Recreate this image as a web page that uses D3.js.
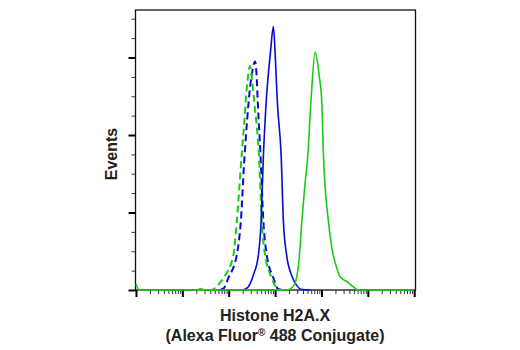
<!DOCTYPE html>
<html>
<head>
<meta charset="utf-8">
<script src="https://cdn.jsdelivr.net/npm/d3@7"></script>
<style>
  html, body { margin: 0; padding: 0; background: #fff; }
  svg { display: block; }
  .lbl { font-family: "Liberation Sans", Arial, sans-serif; font-weight: bold; font-size: 16px; fill: #222; }
</style>
</head>
<body>
<svg id="chart" width="520" height="350"></svg>
<script>
// Fluorescence intensity (log axis) and event counts for each histogram
const blueDashedX = [65, 79, 98, 149, 182, 220, 249, 289, 327, 370, 399, 424, 482, 560, 662, 919, 1161, 1416];
const blueDashedY = [0, 2.6, 15.5, 45, 88, 174, 219, 262, 284, 295, 277, 241, 177, 88, 45, 15.5, 1.3, 0];

const greenDashedX = [22, 25, 29, 40, 47, 53, 77, 126, 149, 191, 218, 240, 268, 285, 319, 357, 403, 445, 517, 608, 849, 1143, 1416];
const greenDashedY = [0, 1.5, 0, 0, 1.3, 3.9, 15.5, 45, 88, 176, 219, 254, 281, 289, 271, 241, 211, 177, 88, 45, 15.5, 1.3, 0];

const blueSolidX = [204, 265, 340, 436, 499, 560, 640, 792, 919, 1000, 1122, 1349, 1512, 1772, 2270, 2985, 3828, 5700];
const blueSolidY = [0, 4.3, 19.4, 45, 88, 174, 241, 306, 340, 306, 241, 174, 88, 45, 19, 5, 0.6, 0];

const greenSolidX = [1, 1.16, 1729, 2109, 2703, 3350, 3770, 4443, 5082, 5902, 7311, 8913, 10190, 11040, 14160, 17010, 20750, 25300, 35300, 45900, 61900, 1000000];
const greenSolidY = [7.7, 0, 0, 1.3, 9, 45, 88, 138, 174, 241, 307, 277, 241, 174, 88, 52, 31, 17, 10.7, 5.2, 0, 0];

// Axis ticks
const xMajorTicks = [1, 10, 100, 1000, 10000, 100000, 1000000];
const xMinorTicks = d3.range(0, 6).flatMap(k => d3.range(2, 10).map(m => m * Math.pow(10, k)));
const yMajorTicks = [0, 100, 200, 300];
const yMinorTicks = d3.range(0, 361, 25);

const xLabel1 = "Histone H2A.X";
const xLabel2a = "(Alexa Fluor";
const xLabel2b = "\u00AE";
const xLabel2c = " 488 Conjugate)";
const yLabel = "Events";

const svg = d3.select("#chart");
const plotLeft = 135.5, plotRight = 415.5, plotTop = 10, plotBottom = 290;

const x = d3.scaleLog().domain([1, 1e6]).range([136, 414.2]);
const y = d3.scaleLinear().domain([0, 361.3]).range([plotBottom, plotTop]);

// Frame
svg.append("rect")
  .attr("x", plotLeft).attr("y", plotTop)
  .attr("width", plotRight - plotLeft).attr("height", plotBottom - plotTop)
  .attr("fill", "none").attr("stroke", "#111").attr("stroke-width", 1.3);

// Y axis: minor then major ticks
const yMinor = svg.append("g").attr("transform", `translate(${plotLeft},0)`)
  .call(d3.axisLeft(y).tickValues(yMinorTicks).tickSize(4).tickSizeOuter(0).tickFormat(""));
yMinor.select(".domain").remove();
yMinor.selectAll("line").attr("stroke", "#333").attr("stroke-width", 1);

const yMajor = svg.append("g").attr("transform", `translate(${plotLeft},0)`)
  .call(d3.axisLeft(y).tickValues(yMajorTicks).tickSize(7).tickSizeOuter(0).tickFormat(""));
yMajor.select(".domain").remove();
yMajor.selectAll("line").attr("stroke", "#000").attr("stroke-width", 2);

// X axis: minor then major ticks
const xMinor = svg.append("g").attr("transform", `translate(0,${plotBottom})`)
  .call(d3.axisBottom(x).tickValues(xMinorTicks).tickSize(4).tickSizeOuter(0).tickFormat(""));
xMinor.select(".domain").remove();
xMinor.selectAll("line").attr("stroke", "#333").attr("stroke-width", 1);

const xMajor = svg.append("g").attr("transform", `translate(0,${plotBottom})`)
  .call(d3.axisBottom(x).tickValues(xMajorTicks).tickSize(7).tickSizeOuter(0).tickFormat(""));
xMajor.select(".domain").remove();
xMajor.selectAll("line").attr("stroke", "#000").attr("stroke-width", 2);

// Histograms
const line = d3.line()
  .x(d => x(d[0]))
  .y(d => y(d[1]))
  .curve(d3.curveMonotoneX);

const series = [
  { xs: blueDashedX, ys: blueDashedY, color: "#0a0ad6", dash: "7,4", width: 2 },
  { xs: greenDashedX, ys: greenDashedY, color: "#19cc19", dash: "7,4", width: 2 },
  { xs: blueSolidX, ys: blueSolidY, color: "#0a0ad6", dash: null, width: 1.6 },
  { xs: greenSolidX, ys: greenSolidY, color: "#19cc19", dash: null, width: 1.6 }
];

series.forEach(s => {
  svg.append("path")
    .datum(s.xs.map((v, i) => [v, s.ys[i]]))
    .attr("d", line)
    .attr("fill", "none")
    .attr("stroke", s.color)
    .attr("stroke-width", s.width)
    .attr("stroke-dasharray", s.dash)
    .attr("stroke-linejoin", "round");
});

// Axis titles
svg.append("text").attr("class", "lbl")
  .attr("transform", "translate(117,154) rotate(-90)")
  .attr("text-anchor", "middle")
  .text(yLabel);

svg.append("text").attr("class", "lbl")
  .attr("x", 275).attr("y", 320.5)
  .attr("text-anchor", "middle")
  .text(xLabel1);

const t2 = svg.append("text").attr("class", "lbl")
  .attr("x", 275).attr("y", 340.5)
  .attr("text-anchor", "middle");
t2.append("tspan").text(xLabel2a);
t2.append("tspan").attr("font-size", "10px").attr("dy", -5).text(xLabel2b);
t2.append("tspan").attr("dy", 5).text(xLabel2c);
</script>
</body>
</html>
